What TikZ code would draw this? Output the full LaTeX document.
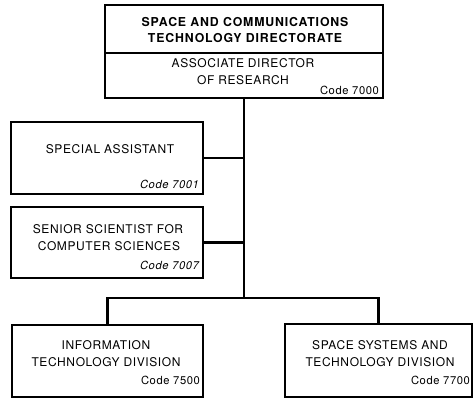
\documentclass[tikz,border=0pt]{standalone}
\usepackage{fontspec}
\newfontfamily\labfont{TeX Gyre Heros}[LetterSpace=5]
\newfontfamily\ttlfont{TeX Gyre Heros}[LetterSpace=7]
\begin{document}
\begin{tikzpicture}[x=1pt,y=1pt,
  box/.style={draw,line width=1.3pt,rectangle,inner sep=0pt},
  conn/.style={line width=2.5pt},
  lbl/.style={anchor=base,inner sep=0pt,font=\labfont\fontsize{12}{14}\selectfont},
  ttl/.style={anchor=base,inner sep=0pt,font=\ttlfont\bfseries\fontsize{12.3}{14}\selectfont},
  code/.style={anchor=base east,inner sep=0pt,font=\labfont\fontsize{11.2}{13}\selectfont},
  codeit/.style={code,font=\labfont\itshape\fontsize{11.2}{13}\selectfont}]
\useasboundingbox (0,0) rectangle (473,398);
% boxes
\node[box,minimum width=278pt,minimum height=93pt] (top) at (244,346.5) {};
\node[box,minimum width=192pt,minimum height=72pt] (sa) at (107,240) {};
\node[box,minimum width=192pt,minimum height=71pt] (ss) at (107,155.5) {};
\node[box,minimum width=191pt,minimum height=72pt] (itd) at (107.5,37) {};
\node[box,minimum width=187pt,minimum height=73pt] (sstd) at (378.5,37.5) {};
\draw[line width=1.3pt] (top.west |- 0,345) -- (top.east |- 0,345);
% texts
\node[ttl] (t1) at (245,371) {SPACE AND COMMUNICATIONS};
\node[ttl] (t2) at (245,355) {TECHNOLOGY DIRECTORATE};
\node[lbl] (t3) at (243,330) {ASSOCIATE DIRECTOR};
\node[lbl] (t4) at (243,313) {OF RESEARCH};
\node[code] (c0) at (379,303) {Code 7000};
\node[lbl] (s1) at (110,244) {SPECIAL ASSISTANT};
\node[codeit] (c1) at (199,209.5) {Code 7001};
\node[lbl] (n1) at (108,164) {SENIOR SCIENTIST FOR};
\node[lbl] (n2) at (109,147) {COMPUTER SCIENCES};
\node[codeit] (c2) at (199,128) {Code 7007};
\node[lbl] (i1) at (106,48) {INFORMATION};
\node[lbl] (i2) at (106,31) {TECHNOLOGY DIVISION};
\node[code] (c3) at (200,13) {Code 7500};
\node[lbl] (p1) at (380,48) {SPACE SYSTEMS AND};
\node[lbl] (p2) at (380,31) {TECHNOLOGY DIVISION};
\node[code] (c4) at (470,13) {Code 7700};
% connectors
\coordinate (hub) at (244,100);
\draw[conn] (top.south) -- (hub);
\draw[conn] (sa.east) -- (sa.east -| hub);
\draw[conn] (ss.east) -- (ss.east -| hub);
\draw[conn] (itd.north) |- (hub) -| (sstd.north);
\end{tikzpicture}
\end{document}
